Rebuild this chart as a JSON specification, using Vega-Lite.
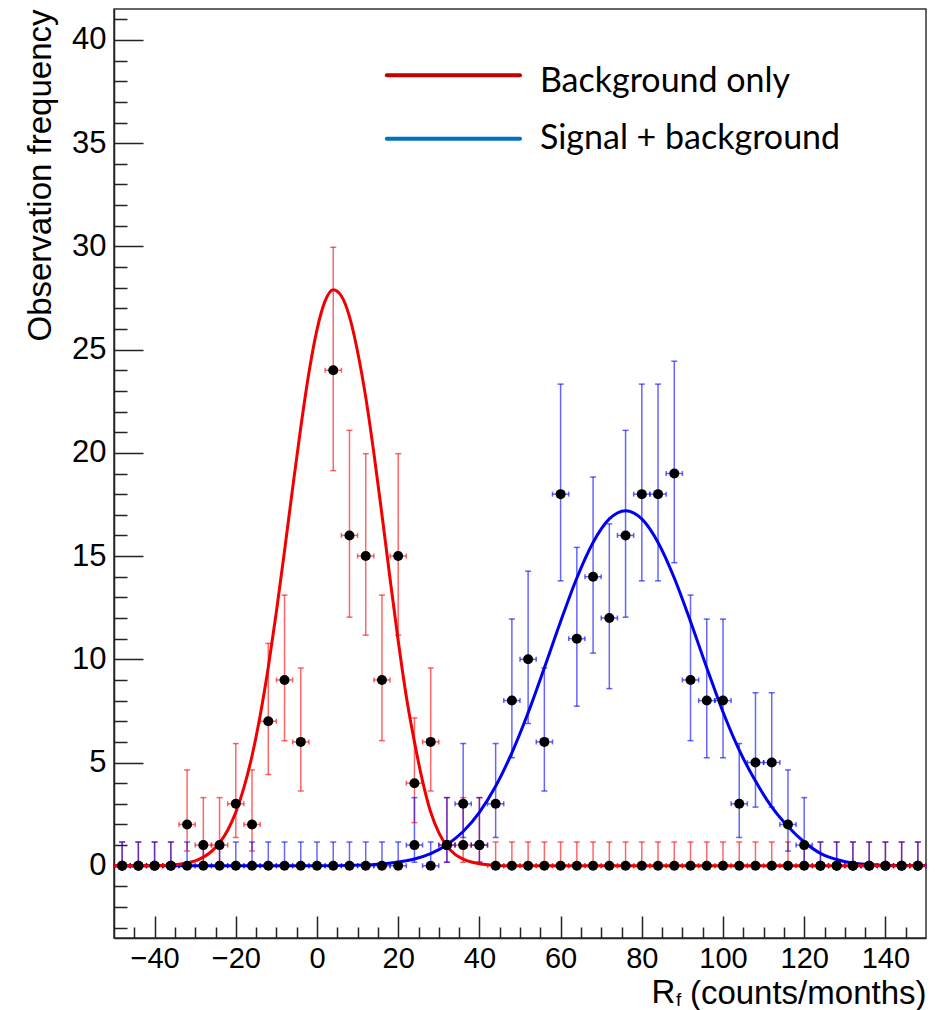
{
  "$schema": "https://vega.github.io/schema/vega-lite/v6.json",
  "width": 812,
  "height": 929,
  "autosize": {"type": "none"},
  "padding": {"left": 114, "top": 9, "right": 25, "bottom": 72},
  "background": "white",
  "config": {"view": {"stroke": "#333333", "strokeWidth": 1.5}, "font": "Liberation Sans"},
  "datasets": {
    "pts": [
      {"s":"bg","x":-48,"n":0,"lo":0,"hi":1.15,"xl":-50,"xh":-46},
      {"s":"bg","x":-44,"n":0,"lo":0,"hi":1.15,"xl":-46,"xh":-42},
      {"s":"bg","x":-40,"n":0,"lo":0,"hi":1.15,"xl":-42,"xh":-38},
      {"s":"bg","x":-36,"n":0,"lo":0,"hi":1.15,"xl":-38,"xh":-34},
      {"s":"bg","x":-32,"n":2,"lo":0.71,"hi":4.64,"xl":-34,"xh":-30},
      {"s":"bg","x":-28,"n":1,"lo":0.17,"hi":3.3,"xl":-30,"xh":-26},
      {"s":"bg","x":-24,"n":1,"lo":0.17,"hi":3.3,"xl":-26,"xh":-22},
      {"s":"bg","x":-20,"n":3,"lo":1.37,"hi":5.92,"xl":-22,"xh":-18},
      {"s":"bg","x":-16,"n":2,"lo":0.71,"hi":4.64,"xl":-18,"xh":-14},
      {"s":"bg","x":-12,"n":7,"lo":4.42,"hi":10.77,"xl":-14,"xh":-10},
      {"s":"bg","x":-8,"n":9,"lo":6.06,"hi":13.11,"xl":-10,"xh":-6},
      {"s":"bg","x":-4,"n":6,"lo":3.62,"hi":9.58,"xl":-6,"xh":-2},
      {"s":"bg","x":4,"n":24,"lo":19.14,"hi":29.96,"xl":2,"xh":6},
      {"s":"bg","x":8,"n":16,"lo":12.04,"hi":21.09,"xl":6,"xh":10},
      {"s":"bg","x":12,"n":15,"lo":11.17,"hi":19.96,"xl":10,"xh":14},
      {"s":"bg","x":16,"n":9,"lo":6.06,"hi":13.11,"xl":14,"xh":18},
      {"s":"bg","x":20,"n":15,"lo":11.17,"hi":19.96,"xl":18,"xh":22},
      {"s":"bg","x":24,"n":4,"lo":2.09,"hi":7.16,"xl":22,"xh":26},
      {"s":"bg","x":28,"n":6,"lo":3.62,"hi":9.58,"xl":26,"xh":30},
      {"s":"bg","x":32,"n":1,"lo":0.17,"hi":3.3,"xl":30,"xh":34},
      {"s":"bg","x":36,"n":1,"lo":0.17,"hi":3.3,"xl":34,"xh":38},
      {"s":"bg","x":40,"n":1,"lo":0.17,"hi":3.3,"xl":38,"xh":42},
      {"s":"bg","x":44,"n":0,"lo":0,"hi":1.15,"xl":42,"xh":46},
      {"s":"bg","x":48,"n":0,"lo":0,"hi":1.15,"xl":46,"xh":50},
      {"s":"bg","x":52,"n":0,"lo":0,"hi":1.15,"xl":50,"xh":54},
      {"s":"bg","x":56,"n":0,"lo":0,"hi":1.15,"xl":54,"xh":58},
      {"s":"bg","x":60,"n":0,"lo":0,"hi":1.15,"xl":58,"xh":62},
      {"s":"bg","x":64,"n":0,"lo":0,"hi":1.15,"xl":62,"xh":66},
      {"s":"bg","x":68,"n":0,"lo":0,"hi":1.15,"xl":66,"xh":70},
      {"s":"bg","x":72,"n":0,"lo":0,"hi":1.15,"xl":70,"xh":74},
      {"s":"bg","x":76,"n":0,"lo":0,"hi":1.15,"xl":74,"xh":78},
      {"s":"bg","x":80,"n":0,"lo":0,"hi":1.15,"xl":78,"xh":82},
      {"s":"bg","x":84,"n":0,"lo":0,"hi":1.15,"xl":82,"xh":86},
      {"s":"bg","x":88,"n":0,"lo":0,"hi":1.15,"xl":86,"xh":90},
      {"s":"bg","x":92,"n":0,"lo":0,"hi":1.15,"xl":90,"xh":94},
      {"s":"bg","x":96,"n":0,"lo":0,"hi":1.15,"xl":94,"xh":98},
      {"s":"bg","x":100,"n":0,"lo":0,"hi":1.15,"xl":98,"xh":102},
      {"s":"bg","x":104,"n":0,"lo":0,"hi":1.15,"xl":102,"xh":106},
      {"s":"bg","x":108,"n":0,"lo":0,"hi":1.15,"xl":106,"xh":110},
      {"s":"bg","x":112,"n":0,"lo":0,"hi":1.15,"xl":110,"xh":114},
      {"s":"bg","x":116,"n":0,"lo":0,"hi":1.15,"xl":114,"xh":118},
      {"s":"bg","x":120,"n":0,"lo":0,"hi":1.15,"xl":118,"xh":122},
      {"s":"bg","x":124,"n":0,"lo":0,"hi":1.15,"xl":122,"xh":126},
      {"s":"bg","x":128,"n":0,"lo":0,"hi":1.15,"xl":126,"xh":130},
      {"s":"bg","x":132,"n":0,"lo":0,"hi":1.15,"xl":130,"xh":134},
      {"s":"bg","x":136,"n":0,"lo":0,"hi":1.15,"xl":134,"xh":138},
      {"s":"bg","x":140,"n":0,"lo":0,"hi":1.15,"xl":138,"xh":142},
      {"s":"bg","x":144,"n":0,"lo":0,"hi":1.15,"xl":142,"xh":146},
      {"s":"bg","x":148,"n":0,"lo":0,"hi":1.15,"xl":146,"xh":150},
      {"s":"sb","x":-48,"n":0,"lo":0,"hi":1.15,"xl":-50,"xh":-46},
      {"s":"sb","x":-44,"n":0,"lo":0,"hi":1.15,"xl":-46,"xh":-42},
      {"s":"sb","x":-40,"n":0,"lo":0,"hi":1.15,"xl":-42,"xh":-38},
      {"s":"sb","x":-36,"n":0,"lo":0,"hi":1.15,"xl":-38,"xh":-34},
      {"s":"sb","x":-32,"n":0,"lo":0,"hi":1.15,"xl":-34,"xh":-30},
      {"s":"sb","x":-28,"n":0,"lo":0,"hi":1.15,"xl":-30,"xh":-26},
      {"s":"sb","x":-24,"n":0,"lo":0,"hi":1.15,"xl":-26,"xh":-22},
      {"s":"sb","x":-20,"n":0,"lo":0,"hi":1.15,"xl":-22,"xh":-18},
      {"s":"sb","x":-16,"n":0,"lo":0,"hi":1.15,"xl":-18,"xh":-14},
      {"s":"sb","x":-12,"n":0,"lo":0,"hi":1.15,"xl":-14,"xh":-10},
      {"s":"sb","x":-8,"n":0,"lo":0,"hi":1.15,"xl":-10,"xh":-6},
      {"s":"sb","x":-4,"n":0,"lo":0,"hi":1.15,"xl":-6,"xh":-2},
      {"s":"sb","x":0,"n":0,"lo":0,"hi":1.15,"xl":-2,"xh":2},
      {"s":"sb","x":4,"n":0,"lo":0,"hi":1.15,"xl":2,"xh":6},
      {"s":"sb","x":8,"n":0,"lo":0,"hi":1.15,"xl":6,"xh":10},
      {"s":"sb","x":12,"n":0,"lo":0,"hi":1.15,"xl":10,"xh":14},
      {"s":"sb","x":16,"n":0,"lo":0,"hi":1.15,"xl":14,"xh":18},
      {"s":"sb","x":20,"n":0,"lo":0,"hi":1.15,"xl":18,"xh":22},
      {"s":"sb","x":24,"n":1,"lo":0.17,"hi":3.3,"xl":22,"xh":26},
      {"s":"sb","x":28,"n":0,"lo":0,"hi":1.15,"xl":26,"xh":30},
      {"s":"sb","x":32,"n":1,"lo":0.17,"hi":3.3,"xl":30,"xh":34},
      {"s":"sb","x":36,"n":3,"lo":1.37,"hi":5.92,"xl":34,"xh":38},
      {"s":"sb","x":40,"n":1,"lo":0.17,"hi":3.3,"xl":38,"xh":42},
      {"s":"sb","x":44,"n":3,"lo":1.37,"hi":5.92,"xl":42,"xh":46},
      {"s":"sb","x":48,"n":8,"lo":5.23,"hi":11.95,"xl":46,"xh":50},
      {"s":"sb","x":52,"n":10,"lo":6.89,"hi":14.27,"xl":50,"xh":54},
      {"s":"sb","x":56,"n":6,"lo":3.62,"hi":9.58,"xl":54,"xh":58},
      {"s":"sb","x":60,"n":18,"lo":13.8,"hi":23.33,"xl":58,"xh":62},
      {"s":"sb","x":64,"n":11,"lo":7.73,"hi":15.42,"xl":62,"xh":66},
      {"s":"sb","x":68,"n":14,"lo":10.3,"hi":18.83,"xl":66,"xh":70},
      {"s":"sb","x":72,"n":12,"lo":8.58,"hi":16.56,"xl":70,"xh":74},
      {"s":"sb","x":76,"n":16,"lo":12.04,"hi":21.09,"xl":74,"xh":78},
      {"s":"sb","x":80,"n":18,"lo":13.8,"hi":23.33,"xl":78,"xh":82},
      {"s":"sb","x":84,"n":18,"lo":13.8,"hi":23.33,"xl":82,"xh":86},
      {"s":"sb","x":88,"n":19,"lo":14.68,"hi":24.44,"xl":86,"xh":90},
      {"s":"sb","x":92,"n":9,"lo":6.06,"hi":13.11,"xl":90,"xh":94},
      {"s":"sb","x":96,"n":8,"lo":5.23,"hi":11.95,"xl":94,"xh":98},
      {"s":"sb","x":100,"n":8,"lo":5.23,"hi":11.95,"xl":98,"xh":102},
      {"s":"sb","x":104,"n":3,"lo":1.37,"hi":5.92,"xl":102,"xh":106},
      {"s":"sb","x":108,"n":5,"lo":2.84,"hi":8.38,"xl":106,"xh":110},
      {"s":"sb","x":112,"n":5,"lo":2.84,"hi":8.38,"xl":110,"xh":114},
      {"s":"sb","x":116,"n":2,"lo":0.71,"hi":4.64,"xl":114,"xh":118},
      {"s":"sb","x":120,"n":1,"lo":0.17,"hi":3.3,"xl":118,"xh":122},
      {"s":"sb","x":124,"n":0,"lo":0,"hi":1.15,"xl":122,"xh":126},
      {"s":"sb","x":128,"n":0,"lo":0,"hi":1.15,"xl":126,"xh":130},
      {"s":"sb","x":132,"n":0,"lo":0,"hi":1.15,"xl":130,"xh":134},
      {"s":"sb","x":136,"n":0,"lo":0,"hi":1.15,"xl":134,"xh":138},
      {"s":"sb","x":140,"n":0,"lo":0,"hi":1.15,"xl":138,"xh":142},
      {"s":"sb","x":144,"n":0,"lo":0,"hi":1.15,"xl":142,"xh":146},
      {"s":"sb","x":148,"n":0,"lo":0,"hi":1.15,"xl":146,"xh":150}
    ],
    "crv": [
      {"s":"bg","x":-50,"y":0},{"s":"bg","x":-44,"y":0},{"s":"bg","x":-40,"y":0.01},{"s":"bg","x":-36,"y":0.04},
      {"s":"bg","x":-34,"y":0.07},{"s":"bg","x":-32,"y":0.14},{"s":"bg","x":-30,"y":0.24},{"s":"bg","x":-28,"y":0.42},
      {"s":"bg","x":-26,"y":0.69},{"s":"bg","x":-24,"y":1.11},{"s":"bg","x":-22,"y":1.72},{"s":"bg","x":-20,"y":2.59},
      {"s":"bg","x":-18,"y":3.78},{"s":"bg","x":-16,"y":5.33},{"s":"bg","x":-14,"y":7.28},{"s":"bg","x":-12,"y":9.62},
      {"s":"bg","x":-10,"y":12.31},{"s":"bg","x":-8,"y":15.25},{"s":"bg","x":-6,"y":18.29},{"s":"bg","x":-4,"y":21.23},
      {"s":"bg","x":-2,"y":23.87},{"s":"bg","x":0,"y":25.97},{"s":"bg","x":2,"y":27.36},{"s":"bg","x":4,"y":27.9},
      {"s":"bg","x":6,"y":27.6},{"s":"bg","x":8,"y":26.6},{"s":"bg","x":10,"y":24.9},{"s":"bg","x":12,"y":22.7},
      {"s":"bg","x":14,"y":20.0},{"s":"bg","x":16,"y":17.0},{"s":"bg","x":18,"y":13.9},{"s":"bg","x":20,"y":10.9},
      {"s":"bg","x":22,"y":8.2},{"s":"bg","x":24,"y":6.0},{"s":"bg","x":26,"y":4.1},{"s":"bg","x":28,"y":2.6},
      {"s":"bg","x":30,"y":1.6},{"s":"bg","x":32,"y":0.95},{"s":"bg","x":34,"y":0.55},{"s":"bg","x":36,"y":0.32},
      {"s":"bg","x":38,"y":0.18},{"s":"bg","x":40,"y":0.1},{"s":"bg","x":42,"y":0.05},{"s":"bg","x":44,"y":0.02},
      {"s":"bg","x":46,"y":0},{"s":"bg","x":150,"y":0},
      {"s":"sb","x":-50,"y":0},{"s":"sb","x":0,"y":0},{"s":"sb","x":10,"y":0.03},{"s":"sb","x":16,"y":0.09},
      {"s":"sb","x":20,"y":0.18},{"s":"sb","x":24,"y":0.33},{"s":"sb","x":28,"y":0.59},{"s":"sb","x":32,"y":1.02},
      {"s":"sb","x":36,"y":1.66},{"s":"sb","x":40,"y":2.59},{"s":"sb","x":44,"y":3.85},{"s":"sb","x":48,"y":5.47},
      {"s":"sb","x":52,"y":7.41},{"s":"sb","x":56,"y":9.59},{"s":"sb","x":60,"y":11.83},{"s":"sb","x":64,"y":13.94},
      {"s":"sb","x":68,"y":15.66},{"s":"sb","x":72,"y":16.8},{"s":"sb","x":76,"y":17.2},{"s":"sb","x":80,"y":16.8},
      {"s":"sb","x":84,"y":15.66},{"s":"sb","x":88,"y":13.94},{"s":"sb","x":92,"y":11.83},{"s":"sb","x":96,"y":9.59},
      {"s":"sb","x":100,"y":7.45},{"s":"sb","x":104,"y":5.6},{"s":"sb","x":108,"y":4.1},{"s":"sb","x":112,"y":2.85},
      {"s":"sb","x":116,"y":1.9},{"s":"sb","x":120,"y":1.15},{"s":"sb","x":124,"y":0.6},{"s":"sb","x":128,"y":0.3},
      {"s":"sb","x":132,"y":0.12},{"s":"sb","x":136,"y":0.06},{"s":"sb","x":140,"y":0.03},{"s":"sb","x":150,"y":0.01}
    ]
  },
  "layer": [
    {
      "data": {"name": "pts"},
      "mark": {"type": "rule", "strokeWidth": 1.5, "opacity": 0.6},
      "encoding": {
        "x": {"field": "x", "type": "quantitative",
          "scale": {"domain": [-50, 150], "nice": false, "zero": false},
          "axis": {"orient": "bottom", "values": [-40, -20, 0, 20, 40, 60, 80, 100, 120, 140], "format": "d",
            "tickSize": -22, "tickWidth": 1.5, "tickColor": "#222222", "domainColor": "#222222", "domainWidth": 1.5,
            "labelFontSize": 29, "labelFont": "Liberation Sans", "labelColor": "black", "labelPadding": 28,
            "labelFlush": false, "labelOverlap": false, "grid": false,
            "title": "(counts/months)", "titleFont": "Liberation Sans", "titleFontSize": 33, "titleFontWeight": "normal",
            "titleColor": "black", "titleAnchor": "end", "titlePadding": 4}},
        "y": {"field": "lo", "type": "quantitative",
          "scale": {"domain": [-3.5, 41.5], "nice": false, "zero": false},
          "axis": {"orient": "left", "values": [0, 5, 10, 15, 20, 25, 30, 35, 40], "format": "d",
            "tickSize": -29, "tickWidth": 1.5, "tickColor": "#222222", "domainColor": "#222222", "domainWidth": 1.5,
            "labelFontSize": 31, "labelFont": "Liberation Sans", "labelColor": "black", "labelPadding": 37,
            "labelFlush": false, "labelOverlap": false, "grid": false,
            "title": "Observation frequency", "titleFont": "Liberation Sans", "titleFontSize": 33, "titleFontWeight": "normal",
            "titleColor": "black", "titleAnchor": "end", "titlePadding": 14}},
        "y2": {"field": "hi"},
        "color": {"field": "s", "type": "nominal", "scale": {"domain": ["bg", "sb"], "range": ["#ff0000", "#0000ff"]}, "legend": null}
      }
    },
    {
      "data": {"name": "pts"},
      "mark": {"type": "rule", "strokeWidth": 1.5, "opacity": 0.6},
      "encoding": {
        "x": {"field": "xl", "type": "quantitative",
          "axis": {"orient": "bottom", "values": [-45, -35, -30, -25, -15, -10, -5, 5, 10, 15, 25, 30, 35, 45, 50, 55, 65, 70, 75, 85, 90, 95, 105, 110, 115, 125, 130, 135, 145],
            "tickSize": -11, "tickWidth": 1.5, "tickColor": "#222222", "labels": false, "domain": false, "grid": false, "title": null}},
        "x2": {"field": "xh"},
        "y": {"field": "n", "type": "quantitative",
          "axis": {"orient": "left", "values": [-3, -2, -1, 1, 2, 3, 4, 6, 7, 8, 9, 11, 12, 13, 14, 16, 17, 18, 19, 21, 22, 23, 24, 26, 27, 28, 29, 31, 32, 33, 34, 36, 37, 38, 39, 41],
            "tickSize": -13, "tickWidth": 1.5, "tickColor": "#222222", "labels": false, "domain": false, "grid": false, "title": null}},
        "color": {"field": "s", "type": "nominal", "legend": null}
      }
    },
    {
      "data": {"name": "pts"},
      "transform": [{"fold": ["lo", "hi"], "as": ["k", "v"]}],
      "mark": {"type": "tick", "orient": "horizontal", "size": 6, "thickness": 1.5, "opacity": 0.6},
      "encoding": {
        "x": {"field": "x", "type": "quantitative", "axis": null},
        "y": {"field": "v", "type": "quantitative", "axis": null},
        "color": {"field": "s", "type": "nominal", "legend": null}
      }
    },
    {
      "data": {"name": "pts"},
      "transform": [{"fold": ["xl", "xh"], "as": ["k", "v"]}],
      "mark": {"type": "tick", "orient": "vertical", "size": 5, "thickness": 1.5, "opacity": 0.6},
      "encoding": {
        "x": {"field": "v", "type": "quantitative", "axis": null},
        "y": {"field": "n", "type": "quantitative", "axis": null},
        "color": {"field": "s", "type": "nominal", "legend": null}
      }
    },
    {
      "data": {"name": "crv"},
      "transform": [{"filter": "datum.s === 'sb'"}],
      "mark": {"type": "line", "color": "#0000f0", "strokeWidth": 3, "interpolate": "monotone"},
      "encoding": {
        "x": {"field": "x", "type": "quantitative", "axis": null},
        "y": {"field": "y", "type": "quantitative", "axis": null}
      }
    },
    {
      "data": {"name": "crv"},
      "transform": [{"filter": "datum.s === 'bg'"}],
      "mark": {"type": "line", "color": "#f00000", "strokeWidth": 3, "interpolate": "monotone"},
      "encoding": {
        "x": {"field": "x", "type": "quantitative", "axis": null},
        "y": {"field": "y", "type": "quantitative", "axis": null}
      }
    },
    {
      "data": {"name": "pts"},
      "mark": {"type": "circle", "color": "black", "size": 100, "opacity": 1},
      "encoding": {
        "x": {"field": "x", "type": "quantitative", "axis": null},
        "y": {"field": "n", "type": "quantitative", "axis": null}
      }
    },
    {
      "data": {"values": [{}]},
      "mark": {"type": "rule", "color": "#c00000", "strokeWidth": 4, "strokeCap": "round"},
      "encoding": {
        "x": {"datum": 17.2, "type": "quantitative", "axis": null},
        "x2": {"datum": 50},
        "y": {"datum": 38.29, "type": "quantitative", "axis": null}
      }
    },
    {
      "data": {"values": [{}]},
      "mark": {"type": "rule", "color": "#0070c0", "strokeWidth": 4, "strokeCap": "round"},
      "encoding": {
        "x": {"datum": 17.2, "type": "quantitative", "axis": null},
        "x2": {"datum": 50},
        "y": {"datum": 35.22, "type": "quantitative", "axis": null}
      }
    },
    {
      "data": {"values": [{}]},
      "mark": {"type": "text", "text": "Background only", "font": "Lato", "fontSize": 34, "color": "black", "align": "left", "baseline": "alphabetic"},
      "encoding": {
        "x": {"datum": 54.9, "type": "quantitative", "axis": null},
        "y": {"datum": 37.48, "type": "quantitative", "axis": null}
      }
    },
    {
      "data": {"values": [{}]},
      "mark": {"type": "text", "text": "Signal + background", "font": "Lato", "fontSize": 34, "color": "black", "align": "left", "baseline": "alphabetic"},
      "encoding": {
        "x": {"datum": 54.9, "type": "quantitative", "axis": null},
        "y": {"datum": 34.74, "type": "quantitative", "axis": null}
      }
    },
    {
      "data": {"values": [{}]},
      "mark": {"type": "text", "text": "R", "font": "Liberation Sans", "fontSize": 33, "color": "black", "align": "left", "baseline": "alphabetic"},
      "encoding": {
        "x": {"datum": 82.4, "type": "quantitative", "axis": null},
        "y": {"datum": -6.64, "type": "quantitative", "axis": null}
      }
    },
    {
      "data": {"values": [{}]},
      "mark": {"type": "text", "text": "f", "font": "Liberation Sans", "fontSize": 19, "color": "black", "align": "left", "baseline": "alphabetic"},
      "encoding": {
        "x": {"datum": 88.4, "type": "quantitative", "axis": null},
        "y": {"datum": -6.8, "type": "quantitative", "axis": null}
      }
    }
  ],
  "resolve": {"axis": {"x": "independent", "y": "independent"}}
}
